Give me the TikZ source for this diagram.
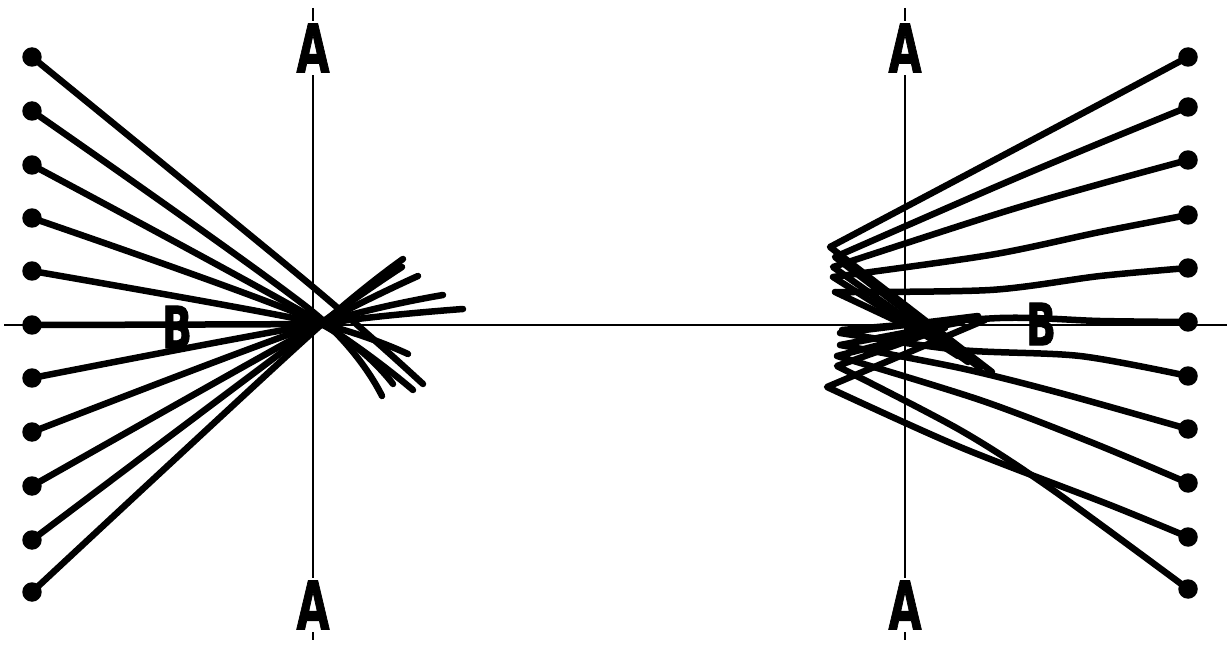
\documentclass[tikz,border=0pt]{standalone}
\usepackage{fontspec}
\setsansfont{DejaVu Sans}
\newfontfamily\letterfont{DejaVu Sans}[BoldFeatures={FakeBold=1.6}]
\begin{document}
\begin{tikzpicture}[x=0.02cm,y=-0.02cm,
  ray/.style={line width=3.7pt,line cap=round,line join=round},
  axisline/.style={line width=1.1pt},
  dot/.style={circle,fill,inner sep=0pt,minimum size=0.39cm},
  letterA/.style={fill=white,inner sep=1.5pt,xscale=0.64,font=\fontsize{38}{38}\letterfont\bfseries},
  letterB/.style={inner sep=0pt,xscale=0.68,font=\fontsize{33}{33}\letterfont\bfseries}]
  \useasboundingbox (0,0) rectangle (1227,645);

  % axes
  \coordinate (hl) at (4,325); \coordinate (hr) at (1227,325);
  \coordinate (lt) at (313,8); \coordinate (lb) at (313,640);
  \coordinate (rt) at (905,8); \coordinate (rb) at (905,640);
  \draw[axisline] (hl) -- (hr);
  \draw[axisline] (lt) -- (lb);
  \draw[axisline] (rt) -- (rb);

  % dots
  \foreach \i/\y in {1/57,2/111,3/165,4/218,5/271,6/325,7/378,8/432,9/486,10/540,11/592}
    \node[dot] (L\i) at (32,\y) {};
  \foreach \i/\y in {1/57,2/107,3/160,4/215,5/268,6/322,7/376,8/429,9/483,10/537,11/589}
    \node[dot] (R\i) at (1188,\y) {};

  % left: rays meet on A-A
  \foreach \i/\cy/\ex/\ey in {1/287/423/384,2/312/382/396,3/318/413/390,4/320/393/384,5/322/408/354,
      6/324/340/322,7/325/463/309,8/326/443/295,9/328/418/276,10/329/402/267,11/332/403/259}
    \draw[ray] plot[smooth] coordinates {(L\i.center) (313,\cy) (\ex,\ey)};

  % right: rays turn back short of A-A
  \foreach \i/\ax/\ay/\bx/\by/\tx/\ty/\ex/\ey in {
      1/1100/104/1000/157/830/247/992/372,
      2/1100/143/1000/185/835/257/980/368,
      3/1100/184/1000/213/833/267/968/362,
      4/1100/232/990/255/833/277/958/356,
      5/1100/276/990/290/835/292/950/346,
      6/1100/321/1000/318/842/330/842/330,
      7/1080/356/960/350/840/333/978/316,
      8/1060/393/960/368/840/345/962/322,
      9/1093/443/980/400/837/356/945/328,
      10/1110/505/960/447/827/387/985/320,
      11/1050/488/960/430/837/366/930/333}
    \draw[ray] plot[smooth] coordinates {(R\i.center) (\ax,\ay) (\bx,\by) (\tx,\ty)} -- (\ex,\ey);

  % letters
  \node[letterA] (A1) at (313,48) {A};
  \node[letterA] (A2) at (313,605) {A};
  \node[letterA] (A3) at (905,48) {A};
  \node[letterA] (A4) at (905,605) {A};
  \node[letterB] (B1) at (177,327) {B};
  \node[letterB] (B2) at (1041,324) {B};
\end{tikzpicture}
\end{document}
